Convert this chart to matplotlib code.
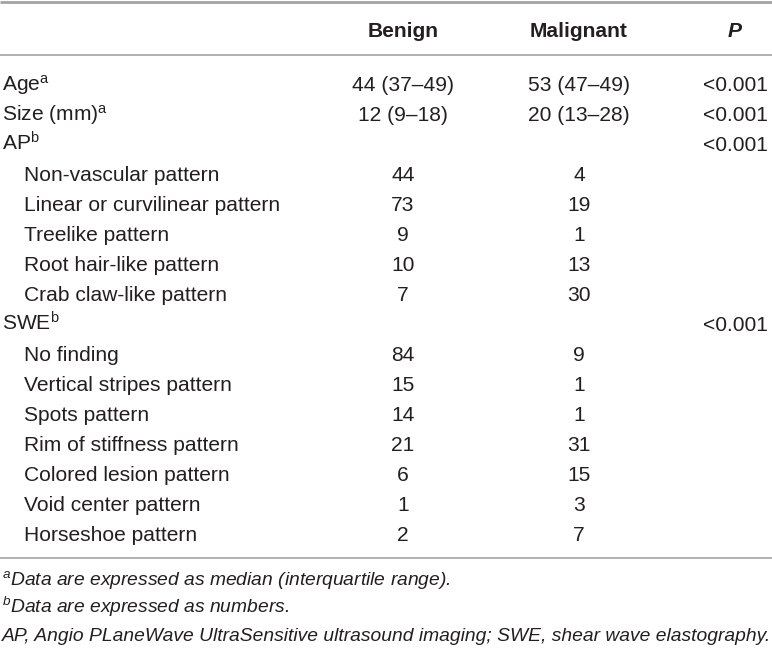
import matplotlib
matplotlib.use("Agg")
import matplotlib.pyplot as plt

# table contents
row_labels = ["Age", "Size (mm)", "AP",
              "Non-vascular pattern", "Linear or curvilinear pattern", "Treelike pattern",
              "Root hair-like pattern", "Crab claw-like pattern",
              "SWE",
              "No finding", "Vertical stripes pattern", "Spots pattern",
              "Rim of stiffness pattern", "Colored lesion pattern", "Void center pattern",
              "Horseshoe pattern"]
row_sup = ["a", "a", "b", "", "", "", "", "", "b", "", "", "", "", "", "", ""]
row_indent = [0, 0, 0, 1, 1, 1, 1, 1, 0, 1, 1, 1, 1, 1, 1, 1]
benign = ["44 (37\u201349)", "12 (9\u201318)", "", "44", "73", "9", "10", "7",
          "", "84", "15", "14", "21", "6", "1", "2"]
malignant = ["53 (47\u201349)", "20 (13\u201328)", "", "4", "19", "1", "13", "30",
             "", "9", "1", "1", "31", "15", "3", "7"]
p_values = ["<0.001", "<0.001", "<0.001", "", "", "", "", "",
            "<0.001", "", "", "", "", "", "", ""]
headers = ["Benign", "Malignant", "P"]
footnotes = [("a", "Data are expressed as median (interquartile range)."),
             ("b", "Data are expressed as numbers."),
             ("", "AP, Angio PLaneWave UltraSensitive ultrasound imaging; SWE, shear wave elastography.")]

FONT = "Liberation Sans"
plt.rcParams["mathtext.fontset"] = "custom"
plt.rcParams["mathtext.rm"] = FONT
plt.rcParams["mathtext.it"] = FONT + ":italic"
plt.rcParams["mathtext.bf"] = FONT + ":bold"

TXT = "#231f20"
LINE = "#a3a3a3"
FS = 15.1
FS_FOOT = 13.85

W, H = 772, 649
fig = plt.figure(figsize=(W / 100, H / 100), dpi=100)
ax = fig.add_axes([0, 0, 1, 1])
ax.set_xlim(0, W)
ax.set_ylim(H, 0)
ax.axis("off")

col_x = [403, 579, 735]
first_row = 83.5
row_h = 30.0
base_off = 7.3  # baseline below the visual centre

# rules
ax.plot([0, W], [1.5, 1.5], color=LINE, lw=2.0, solid_capstyle="butt")
ax.plot([0, W], [55, 55], color=LINE, lw=1.2, solid_capstyle="butt")
ax.plot([0, W], [558, 558], color=LINE, lw=1.2, solid_capstyle="butt")

# header
for x, h in zip(col_x, headers):
    ax.text(x, 30 + base_off, h, ha="center", va="baseline", fontsize=FS, family=FONT,
            color=TXT, fontweight="bold", style="italic" if h == "P" else "normal")

# body
for i, lab in enumerate(row_labels):
    y = first_row + i * row_h + base_off
    x0 = 2 + 22 * row_indent[i]
    if row_sup[i]:
        lab = lab + r"$^{\mathrm{" + row_sup[i] + "}}$"
    ax.text(x0, y, lab, ha="left", va="baseline", fontsize=FS, family=FONT, color=TXT)
    for x, val in zip(col_x, (benign[i], malignant[i], p_values[i])):
        if val:
            ax.text(x, y, val, ha="center", va="baseline", fontsize=FS, family=FONT, color=TXT)

# footnotes
foot_y = [578, 606, 634]
for (letter, note), yc in zip(footnotes, foot_y):
    s = note
    if letter:
        s = "$^{" + letter + "}$" + note
    ax.text(2, yc + base_off, s, ha="left", va="baseline", fontsize=FS_FOOT,
            family=FONT, color=TXT, style="italic")

fig.savefig("out.png", dpi=100)
